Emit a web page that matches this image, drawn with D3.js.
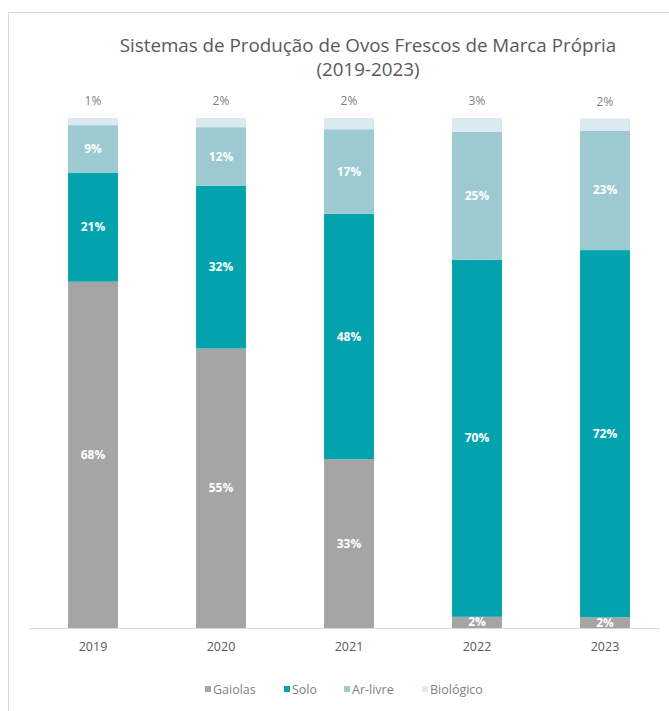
<!DOCTYPE html>
<html><head><meta charset="utf-8">
<script src="https://cdn.jsdelivr.net/npm/d3@7"></script>
<style>body{margin:0;background:#fff}svg{display:block;font-family:"Open Sans",sans-serif}</style>
</head><body><svg id="c" width="669" height="711"></svg>
<script>
const years = ["2019","2020","2021","2022","2023"];
const seriesNames = ["Gaiolas","Solo","Ar-livre","Biológico"];
const gaiolas = [67.9, 54.8, 33.1, 2.2, 2.1];
const solo = [21.4, 31.9, 48.1, 70.0, 72.0];
const arLivre = [9.3, 11.5, 16.6, 25.1, 23.4];
const biologico = [1.4, 1.8, 2.2, 2.7, 2.4];
const colors = ["#a5a5a5","#02a3ad","#9dc9d1","#dbe9f0"];

const svg = d3.select("#c");
svg.append("rect").attr("x",8.5).attr("y",12.5).attr("width",700).attr("height",720)
  .attr("fill","#fff").attr("stroke","#d9d9d9");

const rows = years.map((y,i)=>({year:y,"Gaiolas":gaiolas[i],"Solo":solo[i],"Ar-livre":arLivre[i],"Biológico":biologico[i]}));
const stack = d3.stack().keys(seriesNames)(rows);

const x = d3.scaleBand().domain(years).range([29,669]).paddingInner(0.61).paddingOuter(0.305);
const y = d3.scaleLinear().domain([0,100]).range([628,118]);

svg.append("text").attr("x",368).attr("y",52).attr("text-anchor","middle")
  .attr("font-size",18.8).attr("fill","#595959").text("Sistemas de Produção de Ovos Frescos de Marca Própria");
svg.append("text").attr("x",368).attr("y",76).attr("text-anchor","middle")
  .attr("font-size",18.8).attr("fill","#595959").text("(2019-2023)");

const g = svg.append("g");
stack.forEach((s,si)=>{
  g.selectAll(null).data(s).enter().append("rect")
    .attr("x",d=>x(d.data.year)).attr("width",x.bandwidth())
    .attr("y",d=>y(d[1])).attr("height",d=>y(d[0])-y(d[1]))
    .attr("fill",colors[si]);
  g.selectAll(null).data(s).enter().append("text")
    .attr("x",d=>x(d.data.year)+x.bandwidth()/2)
    .attr("y",d=> si===3 ? y(d[1])-13 : (y(d[0])+y(d[1]))/2+4)
    .attr("text-anchor","middle")
    .attr("font-size",12).attr("font-weight",si===3?"normal":"bold")
    .attr("fill",si===3?"#7f7f7f":"#ffffff")
    .text(d=>Math.round(d[1]-d[0])+"%");
});

const ax = svg.append("g").attr("transform","translate(0,628)")
  .call(d3.axisBottom(x).tickSize(0).tickPadding(14));
ax.select(".domain").attr("stroke","#d9d9d9").attr("d","M29,0.5H660");
ax.selectAll("text").attr("font-size",12.5).attr("fill","#595959").attr("font-family","'Open Sans',sans-serif");

const legX = [205,284,344,422];
const lg = svg.append("g").attr("transform","translate(0,690)");
seriesNames.forEach((n,i)=>{
  lg.append("rect").attr("x",legX[i]).attr("y",-4).attr("width",6).attr("height",6).attr("fill",colors[i]);
  lg.append("text").attr("x",legX[i]+8).attr("y",4).attr("font-size",12.5).attr("fill","#7f7f7f").text(n);
});
</script></body></html>
